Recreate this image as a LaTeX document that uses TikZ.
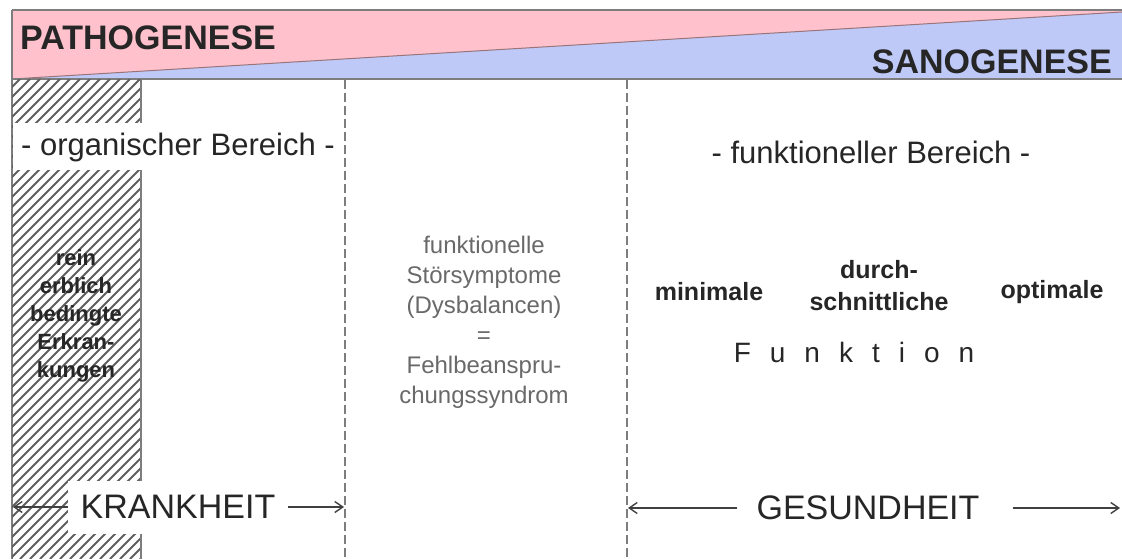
\documentclass[tikz,border=0pt]{standalone}
\usepackage{fontspec}
\setmainfont{Liberation Sans}
\usetikzlibrary{arrows.meta, positioning}
\definecolor{patho-pink}{RGB}{255,194,204}
\definecolor{sano-blue}{RGB}{190,201,248}
\definecolor{frame-gray}{RGB}{125,125,125}
\definecolor{text-gray}{RGB}{105,105,105}
\definecolor{hatch-gray}{RGB}{95,95,95}

\tikzset{
  bandlabel/.style={font=\fontsize{34}{40}\selectfont\bfseries, text=black!85, inner sep=0pt},
  arealabel/.style={font=\fontsize{31}{36}\selectfont, text=black!85, fill=white, inner sep=0pt},
  levellabel/.style={font=\fontsize{25}{32}\selectfont\bfseries, text=black!85, align=center},
  rangelabel/.style={font=\fontsize{34}{40}\selectfont, text=black!85},
  divider/.style={draw=frame-gray, line width=1.2pt, dash pattern=on 9pt off 4pt},
  rangearrow/.style={draw=black!75, line width=1.6pt, -{Straight Barb[length=8pt,width=11pt,line width=1.4pt]}},
}

\begin{document}
\begin{tikzpicture}[x=1pt, y=-1pt]
  \useasboundingbox (0,0) rectangle (1122,559);

  % band Pathogenese / Sanogenese
  \fill[patho-pink] (12,10) -- (1122,10) -- (1122,12) -- (12,79) -- cycle;
  \fill[sano-blue] (12,79) -- (1122,12) -- (1122,79) -- cycle;
  \draw[black!40!patho-pink, line width=1pt] (12,79) -- (1122,12);
  \draw[frame-gray, line width=1.6pt] (12,10) -- (1122,10);
  \draw[frame-gray, line width=1.6pt] (12,79) -- (1122,79);
  \draw[frame-gray, line width=1.6pt] (12,10) -- (12,559);

  % hatched column
  \begin{scope}
    \clip (12,80) rectangle (141,559);
    \foreach \i in {-480,-470,...,140}
      \draw[hatch-gray, line width=1.8pt] (\i,559) -- ++(480,-480);
  \end{scope}
  \draw[frame-gray, line width=1.4pt] (141,80) -- (141,559);

  % dividers
  \draw[divider] (345,80) -- (345,559);
  \draw[divider] (627,80) -- (627,559);

  % band labels
  \node[bandlabel, anchor=west] (patho) at (20,38) {PATHOGENESE};
  \node[bandlabel, anchor=east] (sano) at (1112,62) {SANOGENESE};

  % area labels
  \node[arealabel, minimum width=330pt, minimum height=47pt] (org) at (178,147) {- organischer Bereich -};
  \node[arealabel] (funk) at (871,152) {- funktioneller Bereich -};

  % column texts
  \node[font=\fontsize{22}{28}\selectfont\bfseries, align=center, text=black!85] (erbl) at (76,316) {rein\\erblich\\bedingte\\Erkran-\\kungen};
  \node[font=\fontsize{24}{30}\selectfont, align=center, text=text-gray] (stoer) at (484,322) {funktionelle\\Störsymptome\\(Dysbalancen)\\=\\Fehlbeanspru-\\chungssyndrom};

  % Funktion levels
  \node[levellabel] (mini) at (709,292) {minimale};
  \node[levellabel] (durch) at (879,286) {durch-\\schnittliche};
  \node[levellabel] (opti) at (1052,292) {optimale};
  \node[font=\fontsize{28}{34}\selectfont, text=black!85] (funktion) at (854,352) {\spaceskip=19pt F u n k t i o n};

  % Krankheit
  \node[rangelabel, fill=white, inner xsep=13pt, minimum height=53pt] (krank) at (178,507) {KRANKHEIT};
  \coordinate (krank-l) at (13,507);
  \coordinate (krank-r) at (344,507);
  \draw[rangearrow] (krank) -- (krank-l);
  \draw[rangearrow] (krank) -- (krank-r);

  % Gesundheit
  \node[rangelabel, inner xsep=19pt] (gesund) at (868,508) {GESUNDHEIT};
  \coordinate (gesund-l) at (628,508);
  \coordinate (gesund-r) at (1120,508);
  \draw[rangearrow] (gesund) -- (gesund-l);
  \draw[rangearrow, shorten <=14pt] (gesund) -- (gesund-r);
\end{tikzpicture}
\end{document}
